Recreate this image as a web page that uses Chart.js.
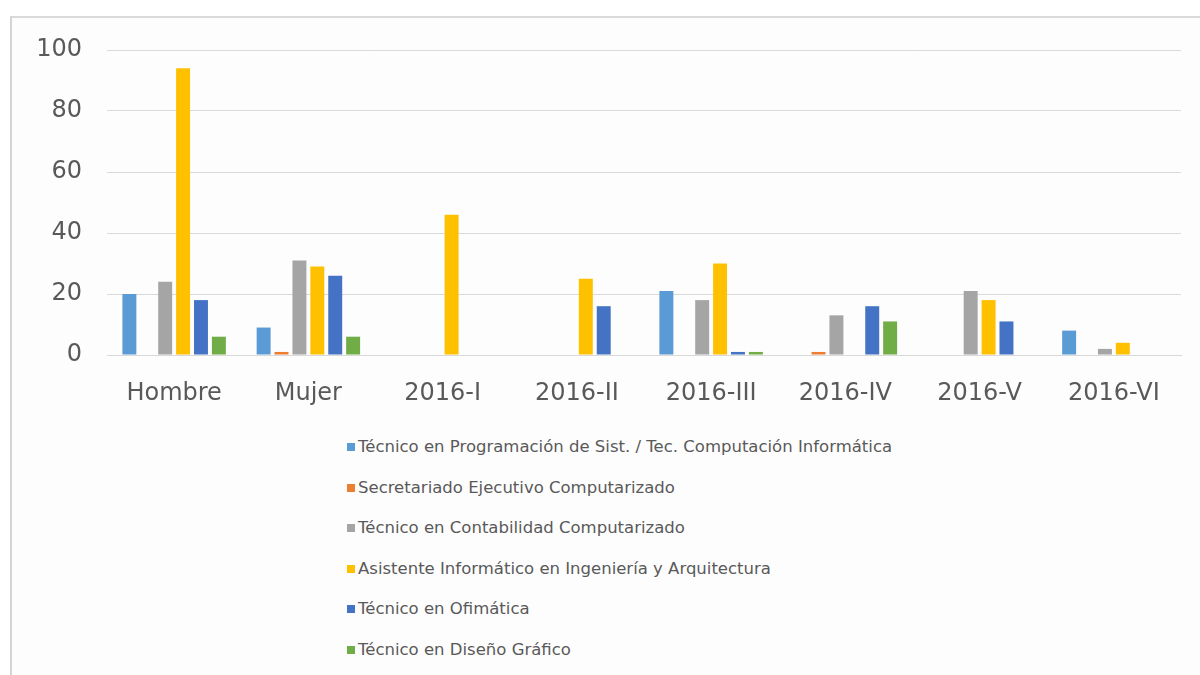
<!DOCTYPE html>
<html>
<head>
<meta charset="utf-8">
<script src="https://cdn.jsdelivr.net/npm/chart.js@4"></script>
<style>
  html, body { margin:0; padding:0; background:#ffffff; width:1200px; height:675px; overflow:hidden; }
  #frame { position:absolute; left:10px; top:16px; width:1200px; height:700px;
           border-left:2px solid #d4d4d4; border-top:2px solid #d9d9d9; background:#fdfdfd; box-sizing:border-box; }
  #wrap { position:absolute; left:0; top:0; width:1200px; height:420px; }
  #legend { position:absolute; left:0; top:0; font-family:'DejaVu Sans', sans-serif; font-size:16.5px; color:#595959; }
  .item { position:absolute; white-space:nowrap; line-height:20px; height:20px; }
  .box { position:absolute; left:0; top:6px; width:8px; height:8px; }
  .txt { position:absolute; left:11px; top:0; }
</style>
</head>
<body>
<div id="frame"></div>
<div id="wrap"><canvas id="c" width="1200" height="420"></canvas></div>
<div id="legend"></div>
<script>
const categories = ['Hombre', 'Mujer', '2016-I', '2016-II', '2016-III', '2016-IV', '2016-V', '2016-VI'];
const seriesNames = [
  'Técnico en Programación de Sist. / Tec. Computación Informática',
  'Secretariado Ejecutivo Computarizado',
  'Técnico en Contabilidad Computarizado',
  'Asistente Informático en Ingeniería y Arquitectura',
  'Técnico en Ofimática',
  'Técnico en Diseño Gráfico'
];
const programacion = [20, 9, 0, 0, 21, 0, 0, 8];
const secretariado = [0, 1, 0, 0, 0, 1, 0, 0];
const contabilidad = [24, 31, 0, 0, 18, 13, 21, 2];
const asistente    = [94, 29, 46, 25, 30, 0, 18, 4];
const ofimatica    = [18, 26, 0, 16, 1, 16, 11, 0];
const diseno       = [6, 6, 0, 0, 1, 11, 0, 0];
const yTicks = [0, 20, 40, 60, 80, 100];
const colors = ['#5B9BD5', '#ED7D31', '#A5A5A5', '#FFC000', '#4472C4', '#70AD47'];

const seriesValues = [programacion, secretariado, contabilidad, asistente, ofimatica, diseno];
const datasets = seriesValues.map((vals, i) => ({
  label: seriesNames[i],
  data: vals,
  backgroundColor: colors[i],
  borderWidth: 0,
  categoryPercentage: 0.8,
  barPercentage: 0.78
}));

const tickFont = { family: 'DejaVu Sans', size: 24 };
const chart = new Chart(document.getElementById('c'), {
  type: 'bar',
  data: { labels: categories, datasets: datasets },
  options: {
    responsive: false,
    devicePixelRatio: 1,
    animation: false,
    layout: { padding: { top: 50, right: 19, left: 0, bottom: 0 } },
    plugins: { legend: { display: false }, tooltip: { enabled: false } },
    scales: {
      x: {
        grid: { display: false, drawTicks: false },
        border: { display: true, color: '#d9d9d9', width: 1 },
        ticks: { font: tickFont, color: '#595959', padding: 24, maxRotation: 0, autoSkip: false },
        afterFit: (s) => { s.height = 65; }
      },
      y: {
        min: 0, max: 100,
        afterBuildTicks: (s) => { s.ticks = yTicks.map(v => ({ value: v })); },
        grid: { color: '#d9d9d9', lineWidth: 1, drawTicks: false },
        border: { display: false },
        ticks: { font: tickFont, color: '#595959', padding: 25 },
        afterFit: (s) => { s.width = 107; }
      }
    }
  }
});

const legend = document.getElementById('legend');
chart.data.datasets.forEach((ds, i) => {
  const item = document.createElement('div');
  item.className = 'item';
  item.style.left = '347px';
  item.style.top = (437 + i * 40.6) + 'px';
  const box = document.createElement('span');
  box.className = 'box';
  box.style.background = ds.backgroundColor;
  const txt = document.createElement('span');
  txt.className = 'txt';
  txt.textContent = ds.label;
  item.appendChild(box);
  item.appendChild(txt);
  legend.appendChild(item);
});
</script>
</body>
</html>
